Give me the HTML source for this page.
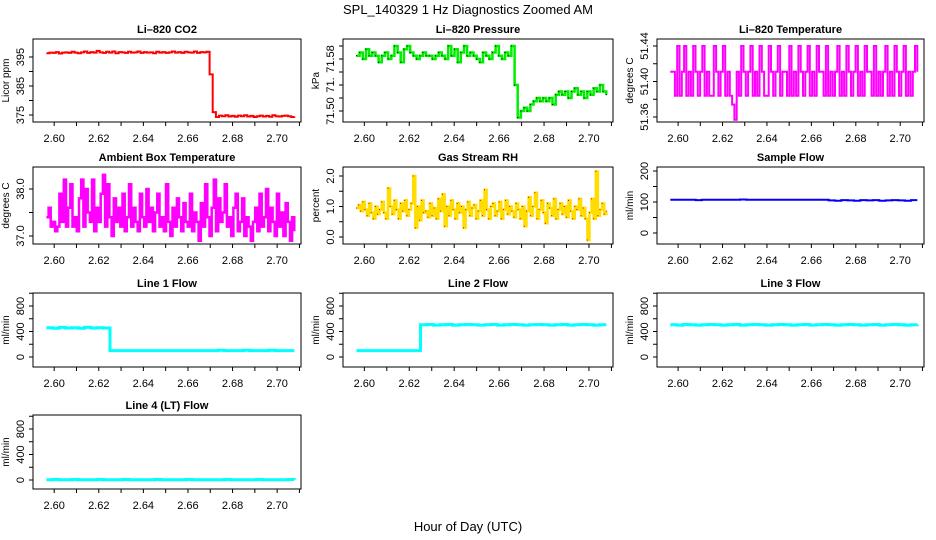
<!DOCTYPE html>
<html><head><meta charset="utf-8"><style>
html,body{margin:0;padding:0;background:#fff}
svg{display:block;font-family:"Liberation Sans",Arial,sans-serif}
</style></head><body>
<svg id="fig" width="936" height="540" viewBox="0 0 936 540">
<text x="468" y="14" text-anchor="middle" font-size="13">SPL_140329 1 Hz Diagnostics Zoomed AM</text>
<text x="468" y="531" text-anchor="middle" font-size="13">Hour of Day (UTC)</text>
</svg>
<script>
const xStart = 2.5965, xEnd = 2.7077;
const xTickVals = [2.59,2.60,2.61,2.62,2.63,2.64,2.65,2.66,2.67,2.68,2.69,2.70,2.71];
const xTickLabels = ["","2.60","","2.62","","2.64","","2.66","","2.68","","2.70",""];

const co2 = [396.3,396.5,396.4,396.7,396.2,396.5,396.6,396.4,396.8,396.5,396.3,396.6,396.9,396.4,396.7,396.5,397.1,396.6,396.4,396.8,396.5,396.9,396.3,396.7,396.6,396.4,396.8,396.5,396.6,396.9,396.4,396.7,396.5,396.6,396.3,396.8,396.5,396.7,396.4,396.6,396.9,396.5,396.7,396.4,396.8,396.6,396.5,396.9,396.4,396.7,396.6,396.8,389.0,376.0,374.3,374.8,374.6,374.9,374.5,374.7,374.4,374.8,374.6,374.9,374.5,374.7,374.3,374.6,374.8,374.5,374.7,374.4,374.9,374.6,374.5,374.7,374.8,374.6,374.3,374.5];
const pressure = [71.585,71.590,71.580,71.595,71.585,71.590,71.585,71.575,71.585,71.590,71.580,71.585,71.600,71.590,71.575,71.595,71.600,71.590,71.585,71.580,71.585,71.590,71.585,71.585,71.580,71.585,71.590,71.585,71.580,71.600,71.585,71.595,71.575,71.590,71.600,71.585,71.590,71.585,71.580,71.575,71.590,71.585,71.580,71.590,71.600,71.585,71.580,71.590,71.585,71.600,71.540,71.490,71.500,71.505,71.500,71.510,71.515,71.520,71.515,71.520,71.515,71.520,71.510,71.525,71.530,71.525,71.530,71.520,71.530,71.535,71.525,71.530,71.520,71.530,71.525,71.535,71.530,71.540,71.530,71.525];
const licorTemp = [51.411,51.411,51.384,51.44,51.384,51.411,51.44,51.384,51.411,51.384,51.44,51.411,51.384,51.411,51.44,51.384,51.411,51.384,51.384,51.44,51.411,51.384,51.411,51.44,51.384,51.411,51.384,51.374,51.357,51.411,51.384,51.44,51.411,51.384,51.411,51.44,51.384,51.411,51.384,51.44,51.411,51.384,51.384,51.44,51.411,51.384,51.411,51.44,51.384,51.411,51.411,51.384,51.44,51.384,51.411,51.384,51.44,51.411,51.384,51.411,51.44,51.384,51.411,51.384,51.44,51.411,51.411,51.384,51.44,51.384,51.411,51.384,51.411,51.44,51.384,51.411,51.384,51.44,51.411,51.384,51.411,51.44,51.384,51.411,51.384,51.44,51.411,51.411,51.384,51.44,51.384,51.411,51.384,51.411,51.44,51.384,51.411,51.384,51.44,51.411,51.384,51.411,51.44,51.384,51.411,51.384,51.411,51.44,51.411];
const ambientTemp = [37.4,37.6,37.2,37.3,37.1,37.2,37.9,37.3,38.2,37.2,37.6,38.1,37.2,37.4,37.1,37.8,38.2,37.2,38.0,37.5,37.3,38.2,37.1,37.6,37.3,37.9,38.3,37.2,38.1,37.4,37.0,37.8,37.3,37.6,37.2,37.9,37.1,37.4,38.1,37.2,37.6,37.3,37.1,37.9,37.4,37.2,38.0,37.3,37.6,37.1,37.5,37.9,37.2,37.4,37.1,38.1,37.3,37.0,37.6,37.2,37.8,37.4,37.1,37.7,37.3,37.2,37.9,37.1,37.5,37.3,36.9,37.7,37.2,38.1,37.4,37.0,37.6,38.2,37.1,37.8,37.3,37.5,38.1,37.2,37.4,37.0,37.6,37.9,37.1,37.3,37.8,37.0,37.4,37.2,36.9,37.3,37.6,37.1,37.9,37.2,37.4,38.0,37.1,37.6,37.3,37.0,37.9,37.2,37.5,37.0,37.7,37.3,36.9,37.4,37.1];
const gasRH = [0.95,1.05,0.85,1.15,0.9,0.7,1.1,0.8,0.6,1.0,0.75,0.9,1.15,0.8,0.6,1.6,1.0,0.75,1.2,0.9,0.6,1.1,0.85,1.2,0.7,0.9,1.1,2.0,0.3,1.0,0.55,1.2,0.8,0.85,0.65,1.1,0.7,0.95,0.6,1.25,0.85,1.4,0.35,1.0,0.7,1.2,0.9,0.6,1.1,0.8,1.0,0.3,0.9,1.15,0.7,0.95,1.05,0.6,0.85,1.2,0.7,1.55,0.9,0.6,1.0,1.1,0.7,0.85,1.15,0.6,0.9,1.2,0.75,1.0,0.85,0.65,1.1,0.9,0.6,1.0,0.35,0.85,1.3,0.7,1.0,1.45,0.6,0.9,1.2,0.8,0.45,1.1,0.95,0.7,1.25,0.6,0.9,1.1,0.75,1.0,0.65,1.2,0.85,0.6,1.0,0.9,1.25,0.7,0.95,0.6,-0.1,0.8,1.25,0.6,2.15,0.7,0.9,1.1,0.75,0.85];
const sampleFlow = [107,107,107,107,106,107,107,107,107,107,107,108,107,107,107,107,107,107,107,107,107,107,107,107,107,105,104,106,105,104,106,105,106,104,105,106,105,104,106,106];
const line1Flow = [460,450,465,455,460,450,465,455,460,455,100,100,100,100,100,100,100,100,100,100,100,100,100,100,100,100,100,105,100,100,100,105,100,100,100,105,100,100,100,100];
const line2Flow = [100,100,100,100,100,100,100,100,100,100,505,510,500,505,510,500,505,510,505,500,505,510,500,505,510,505,500,505,510,505,500,505,510,500,505,510,505,500,505,505];
const line3Flow = [505,500,510,505,500,505,510,505,500,505,510,500,505,510,505,500,505,510,505,500,505,510,500,505,510,505,500,505,510,505,500,505,510,500,505,510,505,500,505,510];
const line4Flow = [5,8,5,5,8,5,5,5,8,5,5,5,8,5,5,5,5,8,5,5,5,5,8,5,5,5,5,5,8,5,5,5,5,8,5,5,5,5,8,5];

const svg = document.getElementById('fig');
const NS = 'http://www.w3.org/2000/svg';
function mk(tag, attrs, parent){
  const e = document.createElementNS(NS, tag);
  for (const k in attrs) e.setAttribute(k, attrs[k]);
  (parent||svg).appendChild(e);
  return e;
}
const cols = [[33,301],[343,613],[657,924]];
const rows = [[39,122],[167,244],[293,367],[415,489]];
const xMin = 2.5905, xMax = 2.7107;

function panel(o){
  const [L,R] = cols[o.c], [T,B] = rows[o.r];
  const g = mk('g', {});
  
  
  const xs = v => L + (v - xMin)/(xMax - xMin)*(R - L);
  const k = (o.p2[1]-o.p1[1])/(o.p2[0]-o.p1[0]);
  const ys = v => o.p1[1] + (v - o.p1[0])*k;
  const t = mk('text', {x:(L+R)/2, y:T-6, 'text-anchor':'middle', 'font-size':11, 'font-weight':'bold'}, g);
  t.textContent = o.title;
  
  
  const d = o.data, n = d.length;
  const clip = 'clip' + o.name;
  const cp = mk('clipPath', {id:clip}, g);
  mk('rect', {x:L, y:T, width:R-L, height:B-T}, cp);
  const gx = i => xs(xStart + (xEnd - xStart)*i/(n-1));
  let pts = '';
  for (let i=0;i<n;i++){
    if (i>0) pts += gx(i).toFixed(1)+','+ys(d[i-1]).toFixed(1)+' ';
    pts += gx(i).toFixed(1)+','+ys(d[i]).toFixed(1)+' ';
  }
  const pl = mk('polyline', {points:pts, fill:'none', stroke:o.color, 'stroke-width':o.w||2, 'clip-path':'url(#'+clip+')'}, g);
  
  
  if (o.dot){
    for (let i=0;i<n;i++){
      const c = mk('rect', {x:gx(i)-0.5, y:ys(d[i])-0.5, width:1, height:1, fill:o.dot}, g);
      
      
    }
  }
  const bx = mk('rect', {x:L, y:T, width:R-L, height:B-T, fill:'none', stroke:'#000', 'stroke-width':1}, g);
  
  
  for (let i=0;i<xTickVals.length;i++){
    const x = xs(xTickVals[i]);
    if (x < L || x > R) continue;
    mk('line', {x1:x, x2:x, y1:B, y2:B+4, stroke:'#000'}, g);
    if (xTickLabels[i]){
      const tl = mk('text', {x:x, y:B+20, 'text-anchor':'middle', 'font-size':11}, g);
      tl.textContent = xTickLabels[i];
      
      
    }
  }
  for (let i=0;i<o.ticks.length;i++){
    const y = ys(o.ticks[i]);
    mk('line', {x1:L-4, x2:L, y1:y, y2:y, stroke:'#000'}, g);
    if (o.labels[i]){
      const tl = mk('text', {x:L-9, y:y, 'text-anchor':'middle', 'font-size':11, transform:'rotate(-90 '+(L-9)+' '+y+')'}, g);
      tl.textContent = o.labels[i];
      
      
    }
  }
  const yc = (T+B)/2;
  const yl = mk('text', {x:L-24, y:yc, 'text-anchor':'middle', 'font-size':10, transform:'rotate(-90 '+(L-24)+' '+yc+')'}, g);
  yl.textContent = o.ylab;
  
  
}

const flowTicks = [0,200,400,600,800,1000], flowLabels = ["0","","400","","800",""];
panel({name:'co2', c:0, r:0, title:'Li\u2013820 CO2', ylab:'Licor ppm', data:co2, color:'#ff0000', p1:[375,115], p2:[395,57], ticks:[375,380,385,390,395], labels:["375","","385","","395"]});
panel({name:'pressure', c:1, r:0, title:'Li\u2013820 Pressure', ylab:'kPa', data:pressure, color:'#00ee00', w:2.5, dot:'#000', p1:[71.50,111], p2:[71.58,59], ticks:[71.50,71.52,71.54,71.56,71.58,71.60], labels:["71.50","","71.","","71.58",""]});
panel({name:'licor-temp', c:2, r:0, title:'Li\u2013820 Temperature', ylab:'degrees C', data:licorTemp, color:'#ff00ff', p1:[51.36,117], p2:[51.44,46], ticks:[51.36,51.38,51.40,51.42,51.44], labels:["51.36","","51.40","","51.44"]});
panel({name:'ambient', c:0, r:1, title:'Ambient Box Temperature', ylab:'degrees C', data:ambientTemp, color:'#ff00ff', w:2.5, p1:[37,236], p2:[38,189], ticks:[37,37.5,38], labels:["37.0","","38.0"]});
panel({name:'gas-rh', c:1, r:1, title:'Gas Stream RH', ylab:'percent', data:gasRH, color:'#ffdd00', w:2.5, dot:'#e00000', p1:[0,237], p2:[2,176], ticks:[0,0.5,1,1.5,2], labels:["0.0","","1.0","","2.0"]});
panel({name:'sample-flow', c:2, r:1, title:'Sample Flow', ylab:'ml/min', data:sampleFlow, color:'#0000ff', p1:[0,233], p2:[200,171], ticks:[0,50,100,150,200], labels:["0","","100","","200"]});
panel({name:'line1', c:0, r:2, title:'Line 1 Flow', ylab:'ml/min', data:line1Flow, color:'#00ffff', w:3, p1:[0,357], p2:[800,306], ticks:flowTicks, labels:flowLabels});
panel({name:'line2', c:1, r:2, title:'Line 2 Flow', ylab:'ml/min', data:line2Flow, color:'#00ffff', w:3, p1:[0,357], p2:[800,306], ticks:flowTicks, labels:flowLabels});
panel({name:'line3', c:2, r:2, title:'Line 3 Flow', ylab:'ml/min', data:line3Flow, color:'#00ffff', w:3, p1:[0,357], p2:[800,306], ticks:flowTicks, labels:flowLabels});
panel({name:'line4', c:0, r:3, title:'Line 4 (LT) Flow', ylab:'ml/min', data:line4Flow, color:'#00ffff', w:3, p1:[0,480], p2:[800,429], ticks:flowTicks, labels:flowLabels});
</script>
</body></html>
